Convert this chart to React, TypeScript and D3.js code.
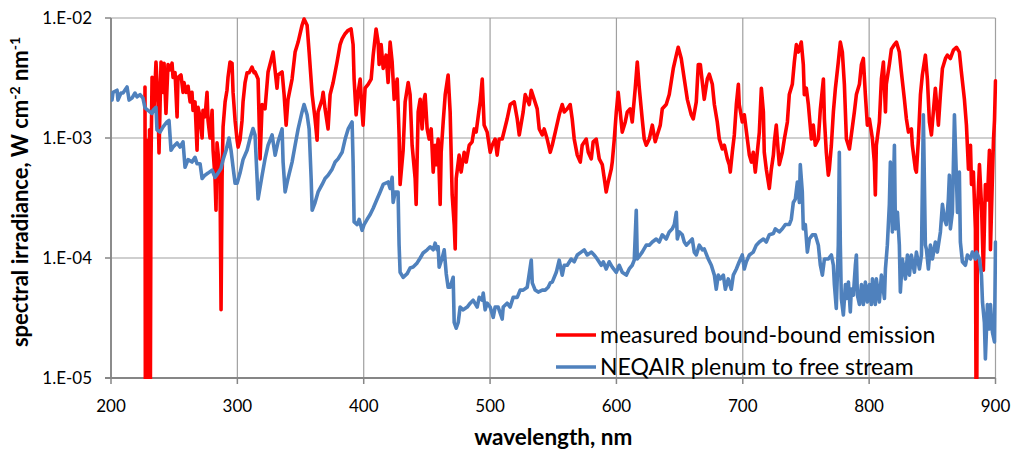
import React from 'react';
import * as d3 from 'd3';

// [wavelength nm, spectral irradiance W cm^-2 nm^-1]
const measuredEmission: [number, number][] = [
  [226.9, 2.66e-3], [227.3, 1e-6], [228.1, 9.6e-4], [228.5, 1e-6], [229.3, 7.9e-4], [229.7, 1e-6],
  [230.5, 1.17e-3], [230.9, 1e-6], [231.7, 6.9e-4], [232.5, 3.2e-3], [234.0, 1.7e-3], [235.6, 4.3e-3],
  [237.2, 2.0e-3], [238.0, 7.5e-4], [239.6, 4.3e-3], [241.2, 2.4e-3], [242.0, 4.2e-3], [243.5, 1.6e-3],
  [245.1, 4.1e-3], [246.7, 3.7e-3], [248.3, 4.2e-3], [249.1, 3.2e-3], [250.7, 3.5e-3], [252.3, 1.5e-3],
  [253.0, 3.2e-3], [255.4, 3.35e-3], [257.0, 2.4e-3], [257.8, 2.9e-3], [259.4, 2.4e-3], [261.0, 2.7e-3],
  [262.6, 2.0e-3], [264.1, 2.4e-3], [264.9, 1.7e-3], [266.5, 2.0e-3], [268.1, 7.9e-4], [268.9, 1.8e-3],
  [270.5, 1.5e-3], [272.1, 1.0e-3], [272.8, 1.7e-3], [274.4, 1.5e-3], [276.0, 2.4e-3], [276.8, 1.4e-3],
  [278.4, 1.0e-3], [280.0, 1.7e-3], [280.8, 7.9e-4], [282.3, 4.7e-4], [283.1, 2.5e-4], [283.9, 9.1e-4],
  [285.5, 6.2e-4], [286.3, 4.2e-4], [287.1, 3.7e-5], [287.9, 4.7e-4], [288.7, 1.24e-3], [290.3, 2.0e-3],
  [291.8, 2.5e-3], [292.6, 3.2e-3], [294.2, 4.3e-3], [295.8, 4.2e-3], [296.6, 2.4e-3], [298.2, 1.4e-3],
  [299.8, 9.6e-4], [300.6, 8.4e-4], [302.1, 9.6e-4], [303.7, 1.4e-3], [304.5, 2.0e-3], [306.1, 2.9e-3],
  [307.7, 3.5e-3], [309.3, 3.5e-3], [311.6, 3.9e-3], [313.2, 3.5e-3], [314.0, 3.55e-3], [316.4, 3.1e-3],
  [318.0, 6.7e-4], [319.6, 1.9e-3], [321.9, 1.75e-3], [324.3, 3.55e-3], [328.3, 5.2e-3], [331.4, 2.6e-3],
  [332.2, 3.35e-3], [335.4, 3.55e-3], [337.0, 2.3e-3], [338.6, 1.28e-3], [340.1, 2.1e-3], [343.3, 3.1e-3],
  [345.7, 5.2e-3], [348.1, 6.3e-3], [351.2, 8.7e-3], [352.8, 9.8e-3], [355.2, 8.7e-3], [356.8, 5.2e-3],
  [359.2, 2.3e-3], [361.5, 1.44e-3], [363.1, 9.6e-4], [363.9, 1.65e-3], [367.1, 2.1e-3], [367.9, 2.4e-3],
  [369.4, 1.75e-3], [371.8, 1.19e-3], [373.4, 2.3e-3], [375.8, 2.9e-3], [378.9, 4.3e-3], [381.3, 6.0e-3],
  [382.9, 6.7e-3], [385.3, 7.4e-3], [387.7, 7.9e-3], [390.0, 8.1e-3], [391.6, 6.0e-3], [392.4, 3.1e-3],
  [394.0, 1.56e-3], [395.6, 2.4e-3], [397.2, 3.1e-3], [398.7, 1.65e-3], [399.5, 1.28e-3], [401.1, 2.6e-3],
  [403.5, 2.8e-3], [405.9, 3.1e-3], [407.5, 4.9e-3], [409.8, 8.1e-3], [411.4, 6.3e-3], [412.2, 4.1e-3],
  [413.8, 6.0e-3], [415.4, 3.8e-3], [417.7, 4.9e-3], [419.3, 2.9e-3], [420.9, 6.3e-3], [422.5, 4.3e-3],
  [424.1, 2.1e-3], [426.5, 3.1e-3], [428.0, 1.06e-3], [428.8, 4.1e-4], [431.2, 7.9e-4], [432.8, 2.0e-3],
  [435.2, 2.9e-3], [436.7, 2.3e-3], [438.3, 8.7e-4], [440.7, 4.6e-4], [441.5, 2.8e-4], [443.1, 1.65e-3],
  [444.7, 2.1e-3], [446.2, 1.19e-3], [447.8, 2.1e-3], [448.6, 2.3e-3], [450.2, 1.19e-3], [451.8, 9.8e-4],
  [453.4, 1.19e-3], [455.0, 5.2e-4], [456.5, 8.7e-4], [457.3, 6.0e-4], [458.9, 9.8e-4], [460.5, 2.8e-4],
  [461.3, 7.6e-4], [462.9, 1.36e-3], [464.5, 2.3e-3], [466.8, 3.35e-3], [468.4, 1.65e-3], [470.0, 3.35e-4],
  [471.6, 1.9e-4], [472.4, 1.19e-4], [473.2, 4.6e-4], [475.5, 7.2e-4], [477.1, 5.2e-4], [479.5, 7.6e-4],
  [481.1, 6.3e-4], [483.5, 8.7e-4], [485.8, 9.3e-4], [487.4, 1.19e-3], [489.0, 1.12e-3], [491.4, 1.75e-3],
  [492.2, 2.0e-3], [493.8, 3.1e-3], [495.3, 1.28e-3], [497.7, 1.12e-3], [500.1, 7.6e-4], [501.7, 8.7e-4],
  [504.0, 9.8e-4], [505.6, 7.2e-4], [507.2, 9.8e-4], [509.6, 9.8e-4], [513.5, 1.44e-3], [515.9, 1.9e-3],
  [519.1, 2.0e-3], [521.5, 1.44e-3], [523.1, 1.06e-3], [526.2, 1.65e-3], [527.8, 2.3e-3], [531.0, 1.9e-3],
  [532.6, 2.5e-3], [534.9, 2.1e-3], [537.3, 1.75e-3], [538.9, 1.19e-3], [541.3, 1.06e-3], [542.8, 1.19e-3],
  [545.2, 9.8e-4], [547.6, 7.6e-4], [549.2, 8.7e-4], [551.6, 1.12e-3], [554.7, 1.56e-3], [557.1, 1.9e-3],
  [558.7, 1.65e-3], [561.1, 1.75e-3], [563.4, 1.9e-3], [565.0, 1.44e-3], [566.6, 9.8e-4], [569.0, 7.2e-4],
  [571.4, 6.3e-4], [572.9, 8.7e-4], [576.1, 9.8e-4], [577.7, 7.6e-4], [580.1, 6.7e-4], [581.6, 9.3e-4],
  [584.0, 9.8e-4], [586.4, 6.7e-4], [588.8, 6.0e-4], [590.4, 4.6e-4], [591.9, 3.55e-4], [593.5, 4.3e-4],
  [595.9, 5.5e-4], [596.7, 6.3e-4], [598.3, 9.8e-4], [599.9, 1.65e-3], [601.4, 2.4e-3], [603.0, 1.65e-3],
  [604.6, 1.12e-3], [607.0, 1.36e-3], [608.6, 1.65e-3], [610.9, 1.75e-3], [612.5, 1.36e-3], [614.9, 2.6e-3],
  [616.5, 4.3e-3], [618.1, 2.6e-3], [620.4, 1.44e-3], [622.0, 9.8e-4], [623.6, 8.7e-4], [626.0, 9.8e-4],
  [628.4, 1.28e-3], [630.7, 9.3e-4], [632.3, 1.06e-3], [634.7, 1.28e-3], [636.3, 1.75e-3], [639.4, 1.9e-3],
  [641.8, 2.3e-3], [645.0, 3.8e-3], [647.4, 4.9e-3], [648.9, 5.7e-3], [651.3, 4.6e-3], [653.7, 3.1e-3],
  [656.1, 2.1e-3], [659.2, 1.56e-3], [660.8, 1.44e-3], [663.2, 2.0e-3], [664.8, 4.1e-3], [666.4, 4.1e-3],
  [668.0, 2.9e-3], [669.5, 2.1e-3], [671.9, 3.1e-3], [673.5, 3.4e-3], [675.9, 2.8e-3], [677.5, 1.9e-3],
  [679.8, 1.36e-3], [681.4, 9.8e-4], [683.8, 8.1e-4], [685.4, 8.7e-4], [687.8, 6.7e-4], [689.3, 6.0e-4],
  [690.1, 5.2e-4], [691.7, 7.6e-4], [693.3, 1.06e-3], [694.9, 1.9e-3], [696.5, 2.8e-3], [697.2, 1.9e-3],
  [699.6, 1.36e-3], [701.2, 1.56e-3], [703.6, 9.8e-4], [705.2, 7.2e-4], [706.8, 6.3e-4], [708.3, 7.6e-4],
  [709.9, 5.2e-4], [711.5, 7.6e-4], [713.1, 1.12e-3], [714.7, 2.6e-3], [716.3, 1.65e-3], [717.0, 7.6e-4],
  [718.6, 5.5e-4], [720.2, 4.3e-4], [721.0, 3.8e-4], [722.6, 5.5e-4], [724.2, 7.2e-4], [725.0, 9.3e-4],
  [726.5, 1.28e-3], [728.1, 7.6e-4], [728.9, 6.0e-4], [731.3, 7.6e-4], [732.9, 9.8e-4], [735.3, 1.36e-3],
  [736.8, 2.3e-3], [739.2, 2.8e-3], [740.8, 4.3e-3], [742.4, 6.0e-3], [744.0, 5.2e-3], [746.3, 6.3e-3],
  [747.9, 4.1e-3], [748.7, 2.3e-3], [750.3, 2.6e-3], [751.9, 1.9e-3], [754.3, 9.8e-4], [755.8, 1.28e-3],
  [757.4, 8.7e-4], [759.8, 9.8e-4], [761.4, 1.75e-3], [763.8, 3.1e-3], [764.6, 1.44e-3], [766.1, 7.6e-4],
  [767.7, 4.9e-4], [768.5, 5.5e-4], [770.1, 8.7e-4], [771.7, 1.65e-3], [773.3, 2.6e-3], [775.6, 4.3e-3],
  [777.2, 6.3e-3], [778.8, 5.2e-3], [780.4, 2.8e-3], [782.0, 9.8e-4], [784.4, 8.1e-4], [785.9, 1.06e-3],
  [788.3, 1.65e-3], [789.9, 2.3e-3], [792.3, 2.8e-3], [793.9, 4.1e-3], [795.4, 4.6e-3], [797.0, 2.3e-3],
  [798.6, 1.28e-3], [800.2, 1.44e-3], [801.8, 1.12e-3], [802.6, 9.8e-4], [804.1, 6.3e-4], [804.9, 3.35e-4],
  [805.7, 8.7e-4], [808.1, 1.36e-3], [809.7, 3.1e-3], [811.3, 4.3e-3], [812.9, 1.65e-3], [813.6, 2.8e-3],
  [816.0, 4.1e-3], [817.6, 5.5e-3], [820.0, 6.0e-3], [821.6, 6.3e-3], [823.9, 5.2e-3], [825.5, 3.55e-3],
  [827.9, 2.1e-3], [829.5, 1.44e-3], [831.1, 1.12e-3], [833.4, 1.19e-3], [834.2, 8.7e-4], [836.6, 5.5e-4],
  [837.4, 5.2e-4], [839.0, 9.8e-4], [840.6, 2.3e-3], [842.1, 3.35e-3], [844.5, 4.9e-3], [846.1, 3.1e-3],
  [847.7, 1.36e-3], [849.3, 1.06e-3], [850.8, 1.65e-3], [852.4, 2.6e-3], [854.8, 1.28e-3], [856.4, 2.3e-3],
  [858.0, 3.8e-3], [860.4, 4.6e-3], [861.9, 4.9e-3], [864.3, 4.6e-3], [866.7, 5.4e-3], [869.1, 5.7e-3],
  [871.4, 5.2e-3], [873.0, 3.55e-3], [875.4, 2.1e-3], [877.0, 1.28e-3], [878.6, 5.5e-4], [880.2, 8.7e-4],
  [881.0, 4.1e-4], [882.5, 5.2e-4], [884.1, 1.75e-4], [884.9, 1e-6], [885.7, 2.4e-4], [887.3, 6.0e-4],
  [888.9, 2.8e-4], [890.4, 7.9e-5], [892.0, 4.1e-4], [893.6, 3.05e-4], [895.2, 7.9e-4], [896.0, 1.17e-4],
  [897.6, 4.9e-4], [898.4, 9.6e-4], [899.2, 1.4e-3], [900.0, 3.0e-3],
];

const neqairPlenum: [number, number][] = [
  [200.0, 2.3e-3], [200.8, 2.07e-3], [201.6, 2.4e-3], [204.8, 2.5e-3], [205.5, 2.07e-3], [207.9, 2.37e-3],
  [209.5, 2.37e-3], [212.7, 2.66e-3], [214.3, 2.07e-3], [216.6, 2.15e-3], [219.0, 2.37e-3], [220.6, 2.2e-3],
  [223.0, 2.3e-3], [225.3, 2.15e-3], [226.9, 1.78e-3], [229.3, 1.7e-3], [232.5, 1.6e-3], [233.3, 1.7e-3],
  [235.6, 1.8e-3], [236.4, 1.17e-3], [238.8, 1.12e-3], [241.2, 1.24e-3], [244.3, 1.36e-3], [245.9, 1.4e-3],
  [247.5, 7.9e-4], [249.1, 8.4e-4], [252.3, 9.1e-4], [254.6, 8.4e-4], [257.0, 9.3e-4], [258.6, 5.7e-4],
  [261.0, 6.6e-4], [264.1, 6.3e-4], [266.5, 6.9e-4], [268.1, 6.1e-4], [270.5, 6.1e-4], [272.1, 4.6e-4],
  [274.4, 4.9e-4], [276.8, 5.1e-4], [280.0, 5.4e-4], [282.3, 4.7e-4], [284.7, 5.1e-4], [287.1, 5.6e-4],
  [288.7, 6.6e-4], [291.1, 7.9e-4], [293.4, 1.0e-3], [295.0, 7.9e-4], [296.6, 5.7e-4], [298.2, 4.2e-4],
  [299.8, 4.2e-4], [302.1, 5.1e-4], [304.5, 6.6e-4], [307.7, 7.9e-4], [310.1, 1.0e-3], [312.4, 1.2e-3],
  [314.0, 1.06e-3], [316.4, 3.1e-4], [319.6, 4.9e-4], [321.9, 6.7e-4], [324.3, 8.7e-4], [327.5, 1.06e-3],
  [329.9, 7.2e-4], [332.2, 9.3e-4], [335.4, 1.19e-3], [336.2, 6.3e-4], [337.8, 3.55e-4], [340.1, 4.6e-4],
  [343.3, 6.3e-4], [345.7, 8.7e-4], [348.1, 1.19e-3], [351.2, 1.65e-3], [352.8, 1.9e-3], [355.2, 1.56e-3],
  [356.8, 1.19e-3], [358.4, 4.6e-4], [359.2, 2.5e-4], [361.5, 2.9e-4], [363.9, 3.55e-4], [367.1, 4.1e-4],
  [369.4, 4.6e-4], [371.8, 4.9e-4], [375.0, 5.5e-4], [377.4, 6.3e-4], [379.7, 6.7e-4], [382.9, 7.6e-4],
  [385.3, 9.8e-4], [387.7, 1.19e-3], [390.8, 1.36e-3], [391.6, 6.3e-4], [392.4, 2.0e-4], [394.8, 1.9e-4],
  [396.4, 2.1e-4], [398.7, 1.7e-4], [400.3, 1.9e-4], [402.7, 2.1e-4], [405.1, 2.3e-4], [407.5, 2.6e-4],
  [410.6, 3.1e-4], [413.0, 3.55e-4], [415.4, 4.1e-4], [419.3, 4.3e-4], [420.9, 3.8e-4], [422.5, 4.7e-4],
  [423.3, 2.9e-4], [424.9, 3.55e-4], [427.2, 3.55e-4], [428.0, 1.28e-4], [428.8, 7.6e-5], [431.2, 6.9e-5],
  [434.4, 7.4e-5], [436.7, 8.25e-5], [439.1, 8.4e-5], [442.3, 9.1e-5], [444.7, 1.0e-4], [447.0, 1.1e-4],
  [450.2, 1.17e-4], [452.6, 1.24e-4], [455.0, 1.17e-4], [456.5, 1.33e-4], [458.1, 1.17e-4], [458.9, 1.24e-4],
  [459.7, 8.4e-5], [462.1, 1.0e-4], [463.7, 1.17e-4], [465.3, 7.4e-5], [466.8, 5.7e-5], [468.4, 5.7e-5],
  [470.8, 6.9e-5], [471.6, 2.9e-5], [473.2, 2.6e-5], [474.8, 2.9e-5], [476.3, 3.9e-5], [478.7, 3.7e-5],
  [481.9, 3.9e-5], [484.3, 4.2e-5], [486.6, 4.45e-5], [489.8, 3.9e-5], [491.4, 4.7e-5], [493.8, 4.45e-5],
  [494.6, 5.1e-5], [496.1, 3.7e-5], [497.7, 4.2e-5], [500.1, 3.9e-5], [502.5, 3.2e-5], [504.0, 3.9e-5],
  [506.4, 3.9e-5], [509.6, 3.1e-5], [510.4, 3.9e-5], [513.5, 4.2e-5], [515.9, 3.9e-5], [518.3, 4.7e-5],
  [521.5, 4.7e-5], [523.8, 5.4e-5], [526.2, 5.4e-5], [529.4, 5.7e-5], [532.6, 9.6e-5], [533.4, 6.2e-5],
  [535.7, 5.4e-5], [538.1, 5.2e-5], [541.3, 5.4e-5], [543.6, 5.4e-5], [546.0, 5.7e-5], [547.6, 6.2e-5],
  [549.2, 6.3e-5], [552.4, 7.6e-5], [554.7, 9.6e-5], [557.1, 7.2e-5], [558.7, 8.7e-5], [561.1, 8.7e-5],
  [564.2, 9.8e-5], [566.6, 9.3e-5], [569.0, 1.06e-4], [572.1, 1.12e-4], [574.5, 1.17e-4], [576.9, 1.06e-4],
  [580.1, 1.12e-4], [582.4, 1.06e-4], [584.8, 9.8e-5], [588.0, 8.7e-5], [589.6, 9.3e-5], [591.9, 8.1e-5],
  [594.3, 9.3e-5], [596.7, 8.4e-5], [599.9, 7.6e-5], [602.2, 8.7e-5], [604.6, 7.6e-5], [607.8, 7.2e-5],
  [610.1, 8.1e-5], [612.5, 8.7e-5], [614.1, 9.6e-5], [615.7, 2.5e-4], [616.5, 9.8e-5], [618.8, 1.06e-4],
  [620.4, 1.12e-4], [623.6, 1.28e-4], [626.0, 1.28e-4], [628.4, 1.36e-4], [631.5, 1.44e-4], [633.9, 1.36e-4],
  [636.3, 1.56e-4], [639.4, 1.44e-4], [641.8, 1.65e-4], [644.2, 1.75e-4], [645.8, 1.9e-4], [647.4, 2.4e-4],
  [648.2, 1.44e-4], [649.7, 1.65e-4], [652.1, 1.56e-4], [653.7, 1.36e-4], [655.3, 1.28e-4], [657.7, 1.36e-4],
  [660.0, 1.44e-4], [661.6, 1.12e-4], [663.2, 1.06e-4], [665.6, 1.28e-4], [668.0, 1.17e-4], [669.5, 1.19e-4],
  [672.7, 9.8e-5], [675.1, 8.7e-5], [677.5, 7.2e-5], [679.0, 5.5e-5], [680.6, 7.2e-5], [682.2, 6.7e-5],
  [684.6, 7.2e-5], [686.2, 5.5e-5], [688.5, 6.7e-5], [690.9, 5.5e-5], [692.5, 7.2e-5], [694.9, 8.1e-5],
  [697.2, 9.3e-5], [699.6, 1.06e-4], [701.2, 8.1e-5], [702.8, 9.3e-5], [705.2, 1.06e-4], [708.3, 1.12e-4],
  [710.7, 1.28e-4], [713.1, 1.36e-4], [716.3, 1.44e-4], [718.6, 1.36e-4], [721.0, 1.56e-4], [724.2, 1.6e-4],
  [725.8, 1.75e-4], [728.9, 1.65e-4], [731.3, 1.75e-4], [733.7, 1.9e-4], [736.8, 1.9e-4], [738.4, 2.1e-4],
  [740.0, 2.9e-4], [741.6, 3.1e-4], [743.2, 4.3e-4], [744.8, 2.9e-4], [745.5, 6.0e-4], [747.1, 3.55e-4],
  [747.9, 1.75e-4], [749.5, 1.9e-4], [751.1, 1.12e-4], [752.7, 1.44e-4], [755.1, 1.56e-4], [757.4, 1.56e-4],
  [759.8, 1.28e-4], [761.4, 8.7e-5], [763.0, 7.2e-5], [764.6, 9.8e-5], [767.7, 9.8e-5], [770.1, 1.06e-4],
  [771.7, 8.7e-5], [772.5, 6.0e-5], [774.0, 3.8e-5], [775.6, 1.28e-4], [776.4, 7.6e-4], [777.2, 1.28e-4],
  [778.0, 4.6e-5], [779.6, 3.35e-5], [781.2, 6.0e-5], [782.0, 4.6e-5], [783.6, 6.3e-5], [785.1, 3.55e-5],
  [785.9, 5.5e-5], [787.5, 4.9e-5], [789.1, 8.7e-5], [789.9, 1.06e-4], [790.7, 4.9e-5], [792.3, 4.1e-5],
  [793.9, 6.0e-5], [795.4, 4.1e-5], [797.0, 6.3e-5], [798.6, 4.3e-5], [800.2, 6.0e-5], [801.8, 4.1e-5],
  [802.6, 6.7e-5], [804.9, 4.1e-5], [805.7, 6.7e-5], [808.1, 4.3e-5], [809.7, 7.2e-5], [812.1, 4.6e-5],
  [812.9, 8.1e-5], [814.4, 1.28e-4], [816.0, 2.8e-4], [816.8, 6.3e-4], [818.4, 1.65e-4], [820.0, 8.7e-4],
  [820.8, 1.75e-4], [822.4, 2.4e-4], [823.9, 1.28e-4], [824.7, 5.2e-5], [826.3, 9.8e-5], [828.7, 6.7e-5],
  [830.3, 1.06e-4], [831.9, 7.2e-5], [833.4, 1.06e-4], [835.8, 7.6e-5], [837.4, 1.12e-4], [839.8, 8.1e-5],
  [841.4, 1.06e-4], [842.9, 1.56e-3], [844.5, 1.28e-4], [845.3, 1.19e-4], [846.9, 8.1e-5], [848.5, 1.28e-4],
  [850.1, 9.8e-5], [852.4, 1.36e-4], [854.0, 1.12e-4], [856.4, 1.65e-4], [858.0, 2.8e-4], [859.6, 2.1e-4],
  [861.1, 1.9e-4], [862.7, 3.1e-4], [863.5, 4.9e-4], [864.3, 1.75e-4], [865.9, 2.4e-4], [867.5, 1.56e-3],
  [869.1, 4.6e-4], [869.9, 2.4e-4], [871.4, 5.2e-4], [872.2, 1.36e-4], [873.8, 9.3e-5], [876.2, 8.7e-5],
  [877.8, 1.06e-4], [880.2, 9.8e-5], [881.7, 1.12e-4], [884.1, 9.8e-5], [884.9, 1.12e-4], [887.3, 9.8e-5],
  [888.9, 7.2e-5], [889.7, 4.3e-5], [891.2, 2.9e-5], [892.0, 1.44e-5], [893.6, 4.1e-5], [895.2, 2.56e-5],
  [896.0, 4.1e-5], [897.6, 2.4e-5], [899.2, 2.0e-5], [900.0, 1.36e-4],
];

const xTicks = [200, 300, 400, 500, 600, 700, 800, 900];
const yTicks = [1e-2, 1e-3, 1e-4, 1e-5];
const yTickLabels = ['1.E-02', '1.E-03', '1.E-04', '1.E-05'];
const seriesNames = ['measured bound-bound emission', 'NEQAIR plenum to free stream'];
const seriesColors = ['#FF0000', '#4F81BD'];

export default function App() {
  const W = 1016;
  const H = 450;
  const left = 111;
  const right = 995.5;
  const top = 18;
  const bottom = 378;
  const font = 'Lato, "Open Sans", sans-serif';

  const x = d3.scaleLinear().domain([200, 900]).range([left, right]);
  const y = d3.scaleLog().domain([1e-5, 1e-2]).range([bottom, top]);
  const line = d3
    .line<[number, number]>()
    .x((d) => x(d[0]))
    .y((d) => y(d[1]));

  const series = [measuredEmission, neqairPlenum];

  return (
    <svg
      width={W}
      height={H}
      viewBox={`0 0 ${W} ${H}`}
      style={{ position: 'absolute', left: 0, top: 0, display: 'block', background: '#fff' }}
    >
      <defs>
        <clipPath id="plotClip">
          <rect x={left} y={top - 4} width={right - left + 2} height={bottom - top + 5} />
        </clipPath>
      </defs>
      <rect x={0} y={0} width={W} height={H} fill="#fff" />

      {/* horizontal gridlines */}
      {yTicks.map((t) => (
        <line key={'gy' + t} x1={left} x2={right} y1={y(t)} y2={y(t)} stroke="#A0A0A0" strokeWidth={1.2} />
      ))}
      {/* vertical gridlines */}
      {xTicks.map((t) => (
        <line key={'gx' + t} x1={x(t)} x2={x(t)} y1={top} y2={bottom} stroke="#A0A0A0" strokeWidth={1.2} />
      ))}

      {/* axes */}
      <line x1={left} x2={left} y1={top} y2={bottom} stroke="#868686" strokeWidth={1.8} />
      <line x1={left - 6} x2={right} y1={bottom} y2={bottom} stroke="#868686" strokeWidth={2} />
      {yTicks.map((t) => (
        <line key={'ty' + t} x1={left - 6} x2={left} y1={y(t)} y2={y(t)} stroke="#868686" strokeWidth={1.5} />
      ))}
      {xTicks.map((t) => (
        <line key={'tx' + t} x1={x(t)} x2={x(t)} y1={bottom} y2={bottom + 6} stroke="#868686" strokeWidth={1.5} />
      ))}

      {/* series */}
      <g clipPath="url(#plotClip)">
        {series.map((s, i) => (
          <path
            key={'s' + i}
            d={line(s) || ''}
            fill="none"
            stroke={seriesColors[i]}
            strokeWidth={3.6}
            strokeLinejoin="round"
            strokeLinecap="round"
          />
        ))}
      </g>

      {/* y tick labels */}
      {yTicks.map((t, i) => (
        <text
          key={'ly' + t}
          x={92}
          y={y(t)}
          dy="0.35em"
          textAnchor="end"
          fontFamily={font}
          fontSize={17}
          fill="#000"
        >
          {yTickLabels[i]}
        </text>
      ))}
      {/* x tick labels */}
      {xTicks.map((t) => (
        <text
          key={'lx' + t}
          x={x(t)}
          y={406}
          dy="0.35em"
          textAnchor="middle"
          fontFamily={font}
          fontSize={17}
          fill="#000"
        >
          {t}
        </text>
      ))}

      {/* axis titles */}
      <text
        x={(left + right) / 2}
        y={437}
        dy="0.35em"
        textAnchor="middle"
        fontFamily={font}
        fontWeight="bold"
        fontSize={22.5}
        fill="#000"
      >
        wavelength, nm
      </text>
      <text
        transform={`translate(28,192) rotate(-90)`}
        textAnchor="middle"
        fontFamily={font}
        fontWeight="bold"
        fontSize={22}
        fill="#000"
      >
        spectral irradiance, W cm
        <tspan dy={-8} fontSize={14}>-2</tspan>
        <tspan dy={8}> nm</tspan>
        <tspan dy={-8} fontSize={14}>-1</tspan>
      </text>

      {/* legend */}
      {seriesNames.map((name, i) => (
        <g key={'lg' + i} transform={`translate(556, ${335 + i * 32})`}>
          <line x1={0} x2={40} y1={0} y2={0} stroke={seriesColors[i]} strokeWidth={3.6} />
          <text x={44} y={8} fontFamily={font} fontSize={23} fill="#000">
            {name}
          </text>
        </g>
      ))}
    </svg>
  );
}
